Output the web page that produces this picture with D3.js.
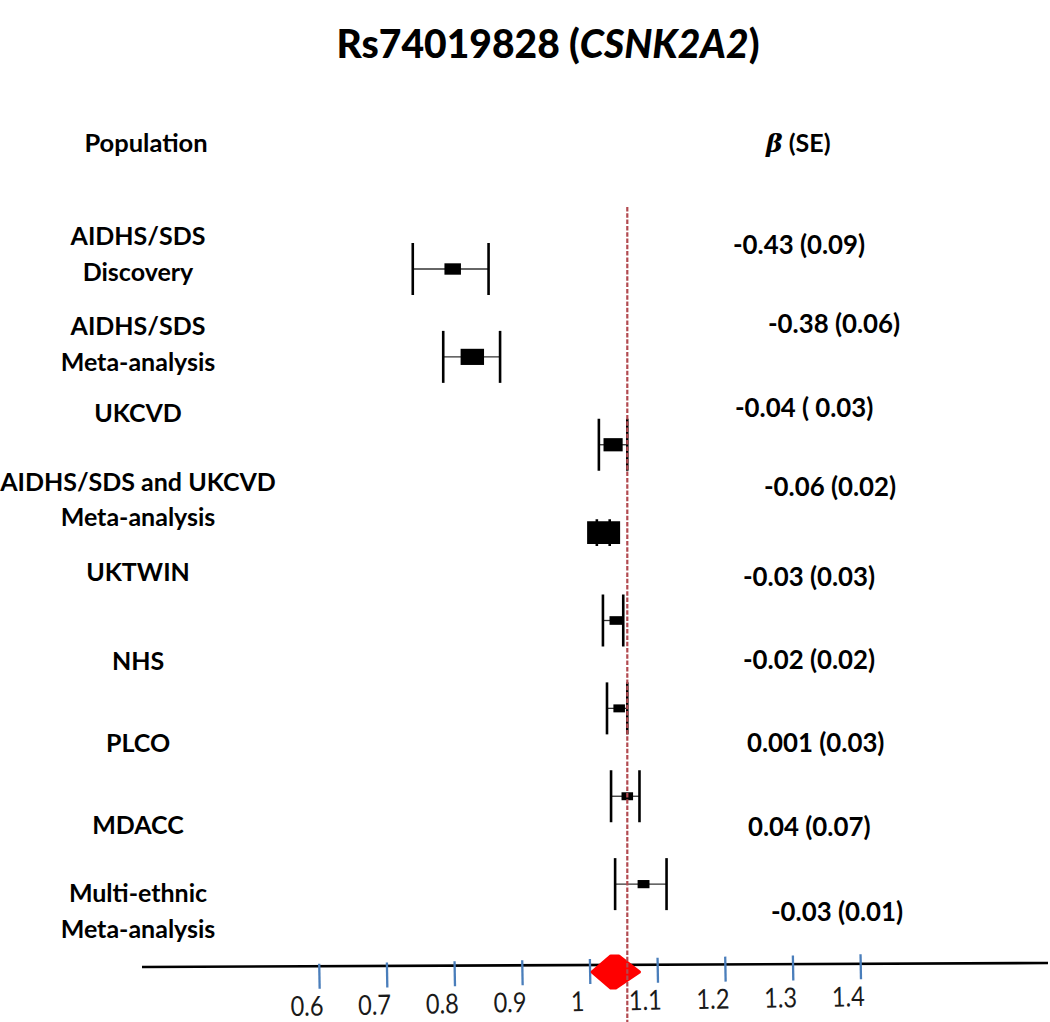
<!DOCTYPE html>
<html>
<head>
<meta charset="utf-8">
<script src="https://cdn.jsdelivr.net/npm/d3@7"></script>
<style>
  html, body { margin: 0; padding: 0; background: #fff; }
  svg { display: block; }
</style>
</head>
<body>
<svg id="chart" width="1050" height="1022"></svg>
<script>
// ---------------- DATA ----------------
const populations = [
  ["AIDHS/SDS", "Discovery"],
  ["AIDHS/SDS", "Meta-analysis"],
  ["UKCVD"],
  ["AIDHS/SDS and UKCVD", "Meta-analysis"],
  ["UKTWIN"],
  ["NHS"],
  ["PLCO"],
  ["MDACC"],
  ["Multi-ethnic", "Meta-analysis"]
];
const betaSE = [
  "-0.43 (0.09)", "-0.38 (0.06)", "-0.04 ( 0.03)", "-0.06 (0.02)",
  "-0.03 (0.03)", "-0.02 (0.02)", "0.001 (0.03)", "0.04 (0.07)", "-0.03 (0.01)"
];
// study estimates on the plotted axis
const estimate = [0.798, 0.827, 1.035, 1.021, 1.039, 1.044, 1.056, 1.080];
const ciLow    = [0.739, 0.784, 1.014, 1.011, 1.020, 1.026, 1.032, 1.038];
const ciHigh   = [0.851, 0.868, 1.056, 1.030, 1.050, 1.056, 1.074, 1.114];
const weights  = [5.0, 7.1, 5.8, 10.0, 3.8, 3.5, 3.5, 3.6];   // relative weight (box size)
// pooled multi-ethnic meta-analysis
const pooledEstimate = [1.036];
const pooledLow = [1.004];
const pooledHigh = [1.074];
const referenceValue = [1.056];
const tickValues = [0.6, 0.7, 0.8, 0.9, 1.0, 1.1, 1.2, 1.3, 1.4];
const tickLabels = ["0.6", "0.7", "0.8", "0.9", "1", "1.1", "1.2", "1.3", "1.4"];

// ---------------- LAYOUT ----------------
const svg = d3.select("#chart");
const W = 1050, H = 1022;
const FONT = "Lato, 'Open Sans', sans-serif";

const x = d3.scaleLinear().domain([0.6, 1.4]).range([318.7, 860.1]);
const rowIdx = d3.range(populations.length);
const yMark = d3.scalePoint().domain(rowIdx).range([269, 972]);
const yLabel = d3.scalePoint().domain(rowIdx).range([254, 911]);
const yStat = d3.scalePoint().domain(rowIdx).range([245, 912]);
const boxW = d3.scaleLinear().domain([0, 10]).range([0, 33]);

const labelNudge = [0, 8, -5, -1, -11, -4, -4, -4, 0];
const statNudgeY = [0, -5, -4, -8, -2, -2, -3, -2, 0];
const statNudgeX = [0, 35, 2, 31, 10, 10, 14, 15, 38];

// Title
const title = svg.append("text")
  .attr("x", 548).attr("y", 58)
  .attr("text-anchor", "middle")
  .attr("font-family", FONT).attr("font-weight", 900).attr("font-size", 39)
  .attr("fill", "#000");
title.append("tspan").text("Rs74019828 (");
title.append("tspan").attr("font-style", "italic").text("CSNK2A2");
title.append("tspan").text(")");

// Column headers
svg.append("text")
  .attr("x", 146).attr("y", 143).attr("dy", "0.36em")
  .attr("text-anchor", "middle")
  .attr("font-family", FONT).attr("font-weight", 700).attr("font-size", 25.5)
  .text("Population");
const hdr = svg.append("text")
  .attr("x", 766).attr("y", 143).attr("dy", "0.36em")
  .attr("font-family", FONT).attr("font-weight", 700).attr("font-size", 25);
hdr.append("tspan").attr("font-style", "italic").attr("font-family", "'DejaVu Serif', serif").text("β");
hdr.append("tspan").text(" (SE)");

// Row labels
const lab = svg.append("g").selectAll("text").data(populations).join("text")
  .attr("font-family", FONT).attr("font-weight", 700).attr("font-size", 25)
  .attr("text-anchor", "middle").attr("fill", "#000");
lab.each(function(lines, i) {
  const n = lines.length;
  const cy = yLabel(i) + labelNudge[i];
  d3.select(this).selectAll("tspan").data(lines).join("tspan")
    .attr("x", 138)
    .attr("y", (d, j) => cy + (j - (n - 1) / 2) * 35.5)
    .attr("dy", "0.36em")
    .text(d => d);
});

// Stats
svg.append("g").selectAll("text").data(betaSE).join("text")
  .attr("x", (d, i) => 733 + statNudgeX[i])
  .attr("y", (d, i) => yStat(i) + statNudgeY[i])
  .attr("dy", "0.36em")
  .attr("font-family", FONT).attr("font-weight", 700).attr("font-size", 25.8)
  .attr("fill", "#000")
  .text(d => d);

// Study markers
const studies = estimate.map((e, i) => ({
  e, lo: ciLow[i], hi: ciHigh[i], w: boxW(weights[i]), y: yMark(i)
}));
const g = svg.append("g");
studies.forEach(s => {
  const bh = s.w / 1.45;
  const ciPx = x(s.hi) - x(s.lo);
  const capH = ciPx < s.w ? bh + 4 : 52;
  g.append("line")
    .attr("x1", x(s.lo)).attr("x2", x(s.hi)).attr("y1", s.y).attr("y2", s.y)
    .attr("stroke", "#333").attr("stroke-width", 1.3);
  [s.lo, s.hi].forEach(v => {
    g.append("line")
      .attr("x1", x(v)).attr("x2", x(v))
      .attr("y1", s.y - capH / 2).attr("y2", s.y + capH / 2)
      .attr("stroke", "#000").attr("stroke-width", 2.6);
  });
  g.append("rect")
    .attr("x", x(s.e) - s.w / 2).attr("y", s.y - bh / 2)
    .attr("width", s.w).attr("height", bh)
    .attr("fill", "#000");
});

// Axis line (slightly tilted like the reference)
svg.append("line")
  .attr("x1", 142).attr("y1", 967).attr("x2", 1048).attr("y2", 963)
  .attr("stroke", "#000").attr("stroke-width", 2.6);

// Ticks and labels
const axisG = svg.append("g")
  .attr("transform", `rotate(-1, ${x(1)}, 960) translate(0, 959)`);
const axis = d3.axisBottom(x).tickValues(tickValues).tickSize(25)
  .tickFormat((d, i) => tickLabels[i]);
axisG.call(axis);
axisG.select(".domain").remove();
axisG.selectAll(".tick line").attr("stroke", "#4a7ebb").attr("stroke-width", 2.3);
axisG.selectAll(".tick text")
  .attr("font-family", FONT).attr("font-size", 27.5).attr("fill", "#1a1a1a")
  .attr("transform", "translate(-13,0) scale(0.86,1)")
  .attr("y", 42).attr("dy", "0.36em");

// Pooled diamond (slightly rounded, hexagon-like as in the reference)
const py = yMark(populations.length - 1);
const pe = x(pooledEstimate[0]);
svg.append("polygon")
  .attr("points", [
    [x(pooledLow[0]), py],
    [pe - 3, py - 16],
    [pe + 5, py - 16],
    [x(pooledHigh[0]), py],
    [pe + 2, py + 16],
    [pe - 3, py + 16]
  ].map(p => p.join(",")).join(" "))
  .attr("fill", "#ff0000").attr("stroke", "#ff0000")
  .attr("stroke-width", 3).attr("stroke-linejoin", "round");

// Reference dashed line
svg.append("line")
  .attr("x1", x(referenceValue[0])).attr("x2", x(referenceValue[0]))
  .attr("y1", 207).attr("y2", H)
  .attr("stroke", "#b24a50").attr("stroke-width", 2.2)
  .attr("stroke-dasharray", "4.5,1.8");
</script>
</body>
</html>
